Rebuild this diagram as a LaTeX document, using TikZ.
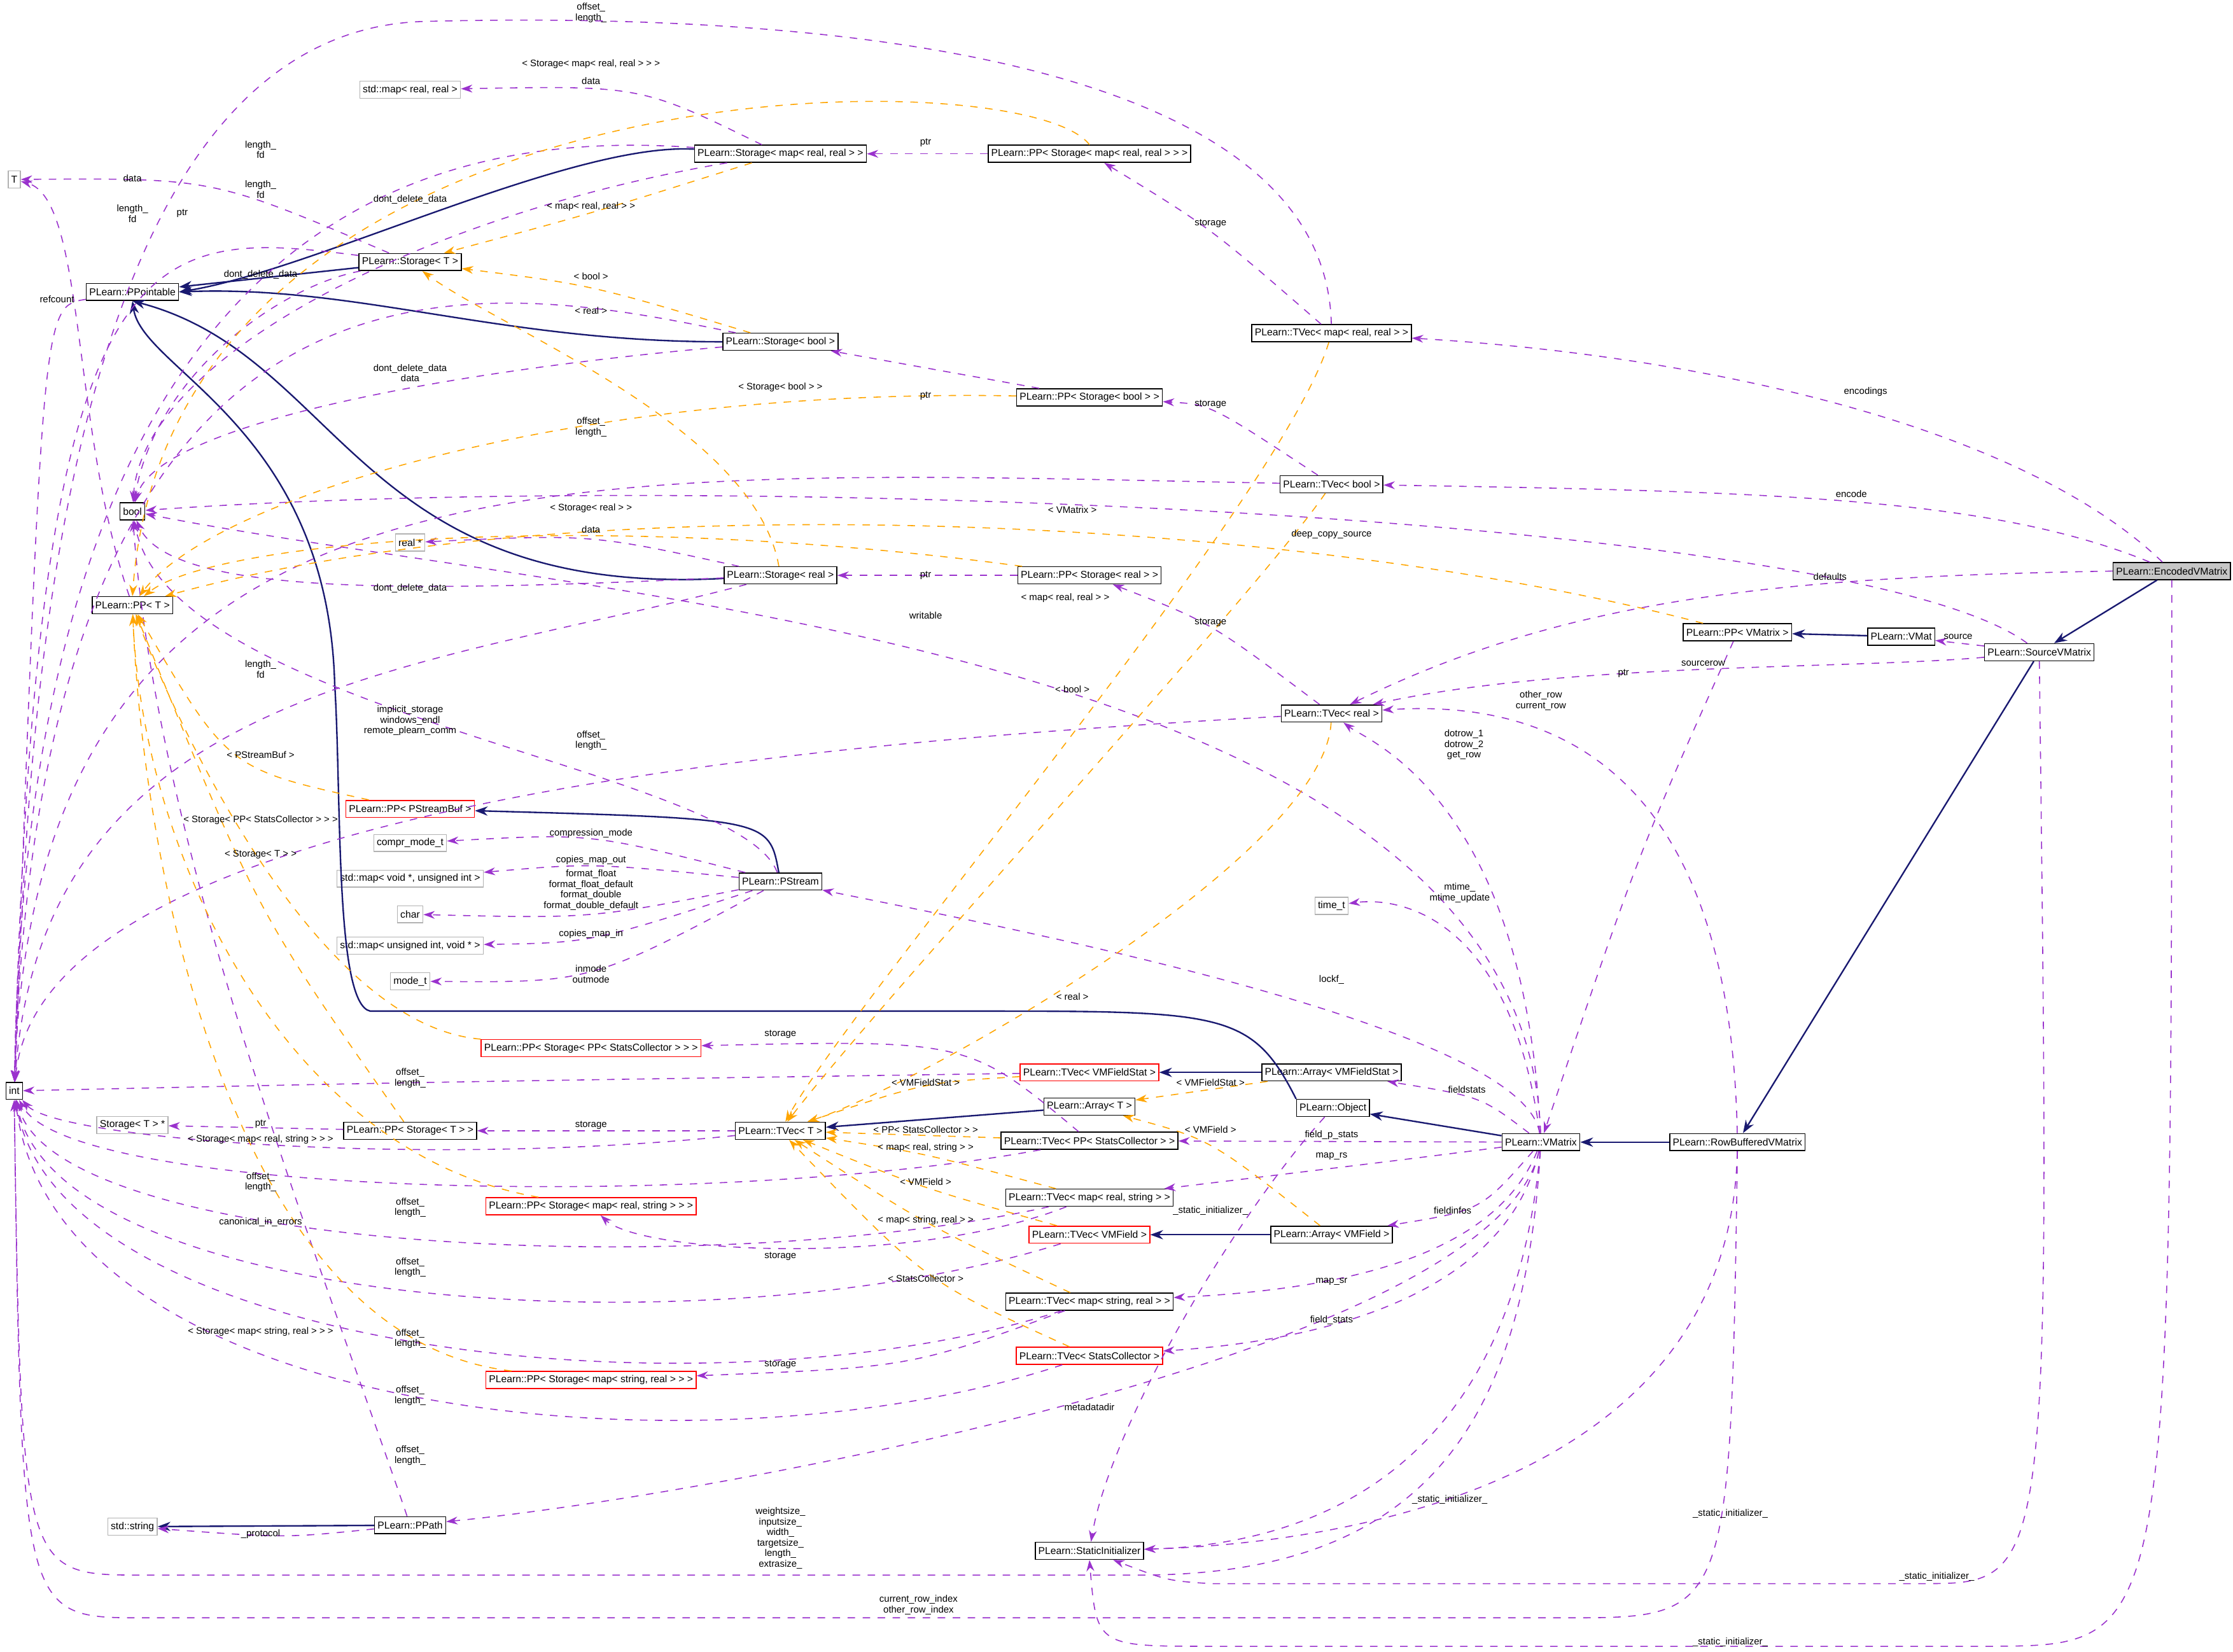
\documentclass[tikz,border=0pt]{standalone}
\usepackage{fontspec}
\setmainfont{Liberation Sans}
\usepackage{tikz}
\usetikzlibrary{arrows.meta}
\definecolor{usecol}{HTML}{9A32CD}
\definecolor{tplcol}{HTML}{FFA500}
\definecolor{inhcol}{HTML}{191970}
\begin{document}
\begin{tikzpicture}[x=0.02cm, y=-0.02cm]
        % Define styles
        \tikzstyle{cls} = [draw, rectangle, inner sep=1.2pt, minimum height=0.24cm, font=\fontsize{4}{4.5}\selectfont]
        \tikzstyle{ext} = [cls, draw=gray!60]
        \tikzstyle{bad} = [cls, draw=red]
        \tikzstyle{lbl} = [inner sep=0pt, align=center, font=\fontsize{3.8}{4.2}\selectfont]
        \tikzstyle{use} = [usecol, dashed, -{Stealth[length=1.6mm, width=1.1mm]}]
        \tikzstyle{tpl} = [tplcol, dashed, -{Stealth[length=1.6mm, width=1.1mm]}]
        \tikzstyle{inh} = [inhcol, semithick, -{Stealth[length=1.8mm, width=1.3mm]}]
        \useasboundingbox (0,0) rectangle (1568,1160);

        % Classes
        \node[cls, fill=gray!45] (encvm) at (1525,401) {PLearn::EncodedVMatrix};
        \node[cls] (srcvm) at (1432,458) {PLearn::SourceVMatrix};
        \node[cls] (vmat) at (1335,447) {PLearn::VMat};
        \node[cls] (ppvm) at (1220,444) {PLearn::PP< VMatrix >};
        \node[cls] (rbvm) at (1220,802) {PLearn::RowBufferedVMatrix};
        \node[cls] (vmatrix) at (1082,802) {PLearn::VMatrix};
        \node[cls] (object) at (936,778) {PLearn::Object};
        \node[cls] (arrfs) at (935,753) {PLearn::Array< VMFieldStat >};
        \node[cls] (arrfi) at (935,867) {PLearn::Array< VMField >};
        \node[cls] (tvmrr) at (935,234) {PLearn::TVec< map< real, real > >};
        \node[cls] (tvbool) at (935,340) {PLearn::TVec< bool >};
        \node[cls] (tvreal) at (935,501) {PLearn::TVec< real >};
        \node[ext] (timet) at (935,636) {time\_t};
        \node[cls] (ppsmrr) at (765,108) {PLearn::PP< Storage< map< real, real > > >};
        \node[cls] (ppsbool) at (765,279) {PLearn::PP< Storage< bool > >};
        \node[cls] (ppsreal) at (765,404) {PLearn::PP< Storage< real > >};
        \node[cls] (smrr) at (548,108) {PLearn::Storage< map< real, real > >};
        \node[cls] (stor) at (288,184) {PLearn::Storage< T >};
        \node[cls] (sbool) at (548,240) {PLearn::Storage< bool >};
        \node[cls] (sreal) at (548,404) {PLearn::Storage< real >};
        \node[cls] (ppointable) at (93,205) {PLearn::PPointable};
        \node[ext] (T) at (10,126) {T};
        \node[cls] (bool) at (93,359) {bool};
        \node[cls] (ppt) at (93,425) {PLearn::PP< T >};
        \node[cls] (int) at (10,766) {int};
        \node[ext] (mapll) at (288,63) {std::map< real, real >};
        \node[ext] (realp) at (288,381) {real *};
        \node[bad] (ppbuf) at (288,568) {PLearn::PP< PStreamBuf >};
        \node[ext] (compr) at (288,592) {compr\_mode\_t};
        \node[ext] (mapvoid) at (288,617) {std::map< void *, unsigned int >};
        \node[ext] (char) at (288,642) {char};
        \node[ext] (mapuns) at (288,664) {std::map< unsigned int, void * >};
        \node[ext] (modet) at (288,689) {mode\_t};
        \node[cls] (pstream) at (548,619) {PLearn::PStream};
        \node[bad] (ppspsc) at (415,736) {PLearn::PP< Storage< PP< StatsCollector > > >};
        \node[bad] (tvfs) at (765,753) {PLearn::TVec< VMFieldStat >};
        \node[cls] (arrt) at (765,777) {PLearn::Array< T >};
        \node[cls] (tvt) at (548,794) {PLearn::TVec< T >};
        \node[cls] (ppst) at (288,794) {PLearn::PP< Storage< T > >};
        \node[ext] (storp) at (93,790) {Storage< T > *};
        \node[cls] (tvppsc) at (765,801) {PLearn::TVec< PP< StatsCollector > >};
        \node[cls] (tvmrs) at (765,841) {PLearn::TVec< map< real, string > >};
        \node[bad] (ppsmrs) at (415,847) {PLearn::PP< Storage< map< real, string > > >};
        \node[bad] (tvfield) at (765,867) {PLearn::TVec< VMField >};
        \node[cls] (tvmsr) at (765,914) {PLearn::TVec< map< string, real > >};
        \node[bad] (tvsc) at (765,952) {PLearn::TVec< StatsCollector >};
        \node[bad] (ppsmsr) at (415,969) {PLearn::PP< Storage< map< string, real > > >};
        \node[ext] (string) at (93,1072) {std::string};
        \node[cls] (ppath) at (288,1071) {PLearn::PPath};
        \node[cls] (statinit) at (765,1089) {PLearn::StaticInitializer};

        % Inheritance
        \draw[inh] (encvm) -- (srcvm);
        \draw[inh] (srcvm) -- (rbvm);
        \draw[inh] (rbvm) -- (vmatrix);
        \draw[inh] (vmatrix) -- (object);
        \draw[inh] (vmat) -- (ppvm);
        \draw[inh] (object.north west) .. controls (880,712) and (860,710) .. (700,710) -- (260,710) .. controls (235,705) and (240,560) .. (235,480) .. controls (230,300) and (100,260) .. (ppointable.south);
        \draw[inh] (stor) -- (ppointable);
        \draw[inh] (smrr) .. controls (400,100) and (220,190) .. (ppointable.east);
        \draw[inh] (sbool) .. controls (350,240) and (250,200) .. (ppointable.east);
        \draw[inh] (sreal) .. controls (250,420) and (240,250) .. (ppointable.south);
        \draw[inh] (pstream) .. controls (540,575) .. (ppbuf);
        \draw[inh] (arrt) -- (tvt);
        \draw[inh] (arrfs) -- (tvfs);
        \draw[inh] (arrfi) -- (tvfield);
        \draw[inh] (ppath) -- (string);

        % Members
        \draw[use] (encvm) .. controls (1420,300) and (1200,250) .. (tvmrr);
        \draw[use] (encvm) .. controls (1400,350) and (1250,345) .. (tvbool);
        \draw[use] (encvm.west) .. controls (1250,405) and (1100,420) .. (tvreal);
        \draw[use] (encvm.south) .. controls (1525,1155) .. (1400,1156) -- (850,1156) .. controls (770,1156) .. (statinit.south);
        \draw[use] (srcvm) -- (vmat);
        \draw[use] (srcvm) .. controls (1300,360) and (500,330) .. (bool);
        \draw[use] (srcvm) .. controls (1300,470) and (1100,465) .. (tvreal);
        \draw[use] (srcvm.south) .. controls (1440,1112) .. (1350,1112) -- (850,1112) .. controls (820,1110) .. (statinit);
        \draw[use] (rbvm) .. controls (1215,550) and (1100,490) .. (tvreal);
        \draw[use] (rbvm.south) .. controls (1215,1136) .. (1100,1136) -- (100,1136) .. controls (15,1136) .. (int.south);
        \draw[use] (rbvm) .. controls (1215,1060) and (900,1085) .. (statinit);
        \draw[use] (vmatrix) .. controls (1070,560) and (960,520) .. (tvreal);
        \draw[use] (vmatrix) .. controls (1060,640) and (980,630) .. (timet);
        \draw[use] (vmatrix) .. controls (1070,720) and (700,650) .. (pstream);
        \draw[use] (vmatrix) .. controls (1040,770) .. (arrfs);
        \draw[use] (vmatrix) -- (tvppsc);
        \draw[use] (vmatrix) .. controls (980,815) .. (tvmrs);
        \draw[use] (vmatrix) .. controls (1040,850) .. (arrfi);
        \draw[use] (vmatrix) .. controls (1050,880) and (950,905) .. (tvmsr);
        \draw[use] (vmatrix) .. controls (1060,900) and (950,940) .. (tvsc);
        \draw[use] (vmatrix) .. controls (1050,950) and (500,1050) .. (ppath);
        \draw[use] (vmatrix) .. controls (1070,1000) and (1000,1106) .. (800,1106) -- (100,1106) .. controls (15,1106) .. (int.south);
        \draw[use] (vmatrix) .. controls (1060,1050) and (900,1085) .. (statinit);
        \draw[use] (vmatrix) .. controls (1070,450) and (400,420) .. (bool);
        \draw[use] (ppvm) .. controls (1150,600) .. (vmatrix);
        \draw[use] (object) .. controls (870,850) and (780,1000) .. (statinit);
        \draw[use] (ppsmrr) -- (smrr);
        \draw[use] (tvmrr) .. controls (850,160) .. (ppsmrr);
        \draw[use] (tvmrr) .. controls (930,20) and (500,10) .. (300,15) .. controls (20,20) and (18,600) .. (int);
        \draw[use] (smrr) .. controls (450,60) .. (mapll);
        \draw[use] (smrr) .. controls (300,90) and (20,150) .. (int);
        \draw[use] (smrr) .. controls (300,150) and (100,250) .. (bool);
        \draw[use] (stor) .. controls (150,125) .. (T);
        \draw[use] (stor) .. controls (100,160) and (25,160) .. (int);
        \draw[use] (stor) .. controls (200,200) and (110,260) .. (bool);
        \draw[use] (sbool) .. controls (300,262) and (110,300) .. (bool);
        \draw[use] (sbool) .. controls (350,200) and (30,130) .. (int);
        \draw[use] (ppsbool) -- (sbool);
        \draw[use] (tvbool) .. controls (850,284) .. (ppsbool);
        \draw[use] (tvbool) .. controls (400,330) and (25,300) .. (int);
        \draw[use] (sreal) .. controls (415,375) .. (realp);
        \draw[use] (sreal) .. controls (300,415) and (120,420) .. (bool);
        \draw[use] (sreal) .. controls (300,470) and (30,480) .. (int);
        \draw[use] (ppsreal) -- (sreal);
        \draw[use] (tvreal) .. controls (850,437) .. (ppsreal);
        \draw[use] (tvreal) .. controls (600,520) and (30,560) .. (int);
        \draw[use] (ppointable) .. controls (30,215) .. (int);
        \draw[use] (ppt) .. controls (50,300) and (60,140) .. (T);
        \draw[use] (pstream) .. controls (415,585) .. (compr);
        \draw[use] (pstream) .. controls (415,606) .. (mapvoid);
        \draw[use] (pstream) .. controls (415,645) .. (char);
        \draw[use] (pstream) .. controls (415,662) .. (mapuns);
        \draw[use] (pstream) .. controls (415,690) .. (modet);
        \draw[use] (pstream) .. controls (520,540) and (120,500) .. (bool);
        \draw[use] (tvfs) .. controls (288,760) .. (int);
        \draw[use] (tvt) -- (ppst);
        \draw[use] (tvt) .. controls (300,820) and (40,800) .. (int);
        \draw[use] (ppst) -- (storp);
        \draw[use] (tvppsc) .. controls (680,730) .. (ppspsc);
        \draw[use] (tvppsc) .. controls (500,850) and (50,840) .. (int);
        \draw[use] (tvmrs) .. controls (640,890) and (450,880) .. (ppsmrs);
        \draw[use] (tvmrs) .. controls (500,900) and (40,880) .. (int);
        \draw[use] (ppath) .. controls (230,900) and (110,600) .. (bool);
        \draw[use] (tvfield) .. controls (500,950) and (40,920) .. (int);
        \draw[use] (tvmsr) .. controls (640,960) .. (ppsmsr);
        \draw[use] (tvmsr) .. controls (500,1000) and (40,950) .. (int);
        \draw[use] (tvsc) .. controls (500,1040) and (40,1000) .. (int);
        \draw[use] (ppath) .. controls (200,1080) .. (string);

        % Templates
        \draw[tpl] (ppsmrr.north) .. controls (720,40) and (120,40) .. (ppt.north);
        \draw[tpl] (smrr) .. controls (415,150) .. (stor);
        \draw[tpl] (sbool) .. controls (415,200) .. (stor);
        \draw[tpl] (sreal) .. controls (530,300) and (350,230) .. (stor);
        \draw[tpl] (ppsbool) .. controls (400,272) and (150,350) .. (ppt);
        \draw[tpl] (ppsreal) .. controls (415,357) and (150,380) .. (ppt);
        \draw[tpl] (ppvm) .. controls (900,360) and (400,340) .. (ppt);
        \draw[tpl] (tvmrr) .. controls (900,350) and (600,700) .. (tvt);
        \draw[tpl] (tvbool) .. controls (880,420) and (620,700) .. (tvt);
        \draw[tpl] (tvreal) .. controls (930,600) and (650,760) .. (tvt);
        \draw[tpl] (ppbuf) .. controls (160,540) .. (ppt);
        \draw[tpl] (ppspsc) .. controls (220,720) and (120,500) .. (ppt);
        \draw[tpl] (ppst) .. controls (180,640) .. (ppt);
        \draw[tpl] (ppsmrs) .. controls (200,810) and (100,600) .. (ppt);
        \draw[tpl] (ppsmsr) .. controls (160,940) and (100,600) .. (ppt);
        \draw[tpl] (tvfs) .. controls (650,760) .. (tvt);
        \draw[tpl] (tvppsc) -- (tvt);
        \draw[tpl] (tvmrs) .. controls (650,810) .. (tvt);
        \draw[tpl] (tvfield) .. controls (650,835) .. (tvt);
        \draw[tpl] (tvmsr) .. controls (650,860) .. (tvt);
        \draw[tpl] (tvsc) .. controls (650,900) .. (tvt);
        \draw[tpl] (arrfs) .. controls (850,765) .. (arrt);
        \draw[tpl] (arrfi) .. controls (850,800) .. (arrt);

        % Labels
        \node[lbl] at (1310,275) {encodings};
        \node[lbl] at (1300,347) {encode};
        \node[lbl] at (1285,405) {defaults};
        \node[lbl] at (1215,1153) {\_static\_initializer\_};
        \node[lbl] at (1375,447) {source};
        \node[lbl] at (935,375) {deep\_copy\_source};
        \node[lbl] at (1196,466) {sourcerow};
        \node[lbl] at (1360,1107) {\_static\_initializer\_};
        \node[lbl] at (1082,492) {other\_row\\current\_row};
        \node[lbl] at (645,1127) {current\_row\_index\\other\_row\_index};
        \node[lbl] at (1215,1063) {\_static\_initializer\_};
        \node[lbl] at (1028,523) {dotrow\_1\\dotrow\_2\\get\_row};
        \node[lbl] at (1025,627) {mtime\_\\mtime\_update};
        \node[lbl] at (935,688) {lockf\_};
        \node[lbl] at (1030,765) {fieldstats};
        \node[lbl] at (935,797) {field\_p\_stats};
        \node[lbl] at (935,812) {map\_rs};
        \node[lbl] at (1020,850) {fieldinfos};
        \node[lbl] at (935,900) {map\_sr};
        \node[lbl] at (935,927) {field\_stats};
        \node[lbl] at (765,988) {metadatadir};
        \node[lbl] at (548,1080) {weightsize\_\\inputsize\_\\width\_\\targetsize\_\\length\_\\extrasize\_};
        \node[lbl] at (1018,1053) {\_static\_initializer\_};
        \node[lbl] at (650,432) {writable};
        \node[lbl] at (1140,473) {ptr};
        \node[lbl] at (850,850) {\_static\_initializer\_};
        \node[lbl] at (650,100) {ptr};
        \node[lbl] at (850,157) {storage};
        \node[lbl] at (415,9) {offset\_\\length\_};
        \node[lbl] at (415,57) {data};
        \node[lbl] at (183,105) {length\_\\fd};
        \node[lbl] at (288,140) {dont\_delete\_data};
        \node[lbl] at (93,125) {data};
        \node[lbl] at (93,150) {length\_\\fd};
        \node[lbl] at (128,150) {ptr};
        \node[lbl] at (183,193) {dont\_delete\_data};
        \node[lbl] at (288,262) {dont\_delete\_data\\data};
        \node[lbl] at (183,133) {length\_\\fd};
        \node[lbl] at (650,278) {ptr};
        \node[lbl] at (850,284) {storage};
        \node[lbl] at (415,300) {offset\_\\length\_};
        \node[lbl] at (415,372) {data};
        \node[lbl] at (288,413) {dont\_delete\_data};
        \node[lbl] at (183,470) {length\_\\fd};
        \node[lbl] at (650,404) {ptr};
        \node[lbl] at (850,437) {storage};
        \node[lbl] at (415,520) {offset\_\\length\_};
        \node[lbl] at (40,210) {refcount};
        \node[lbl] at (415,585) {compression\_mode};
        \node[lbl] at (415,604) {copies\_map\_out};
        \node[lbl] at (415,625) {format\_float\\format\_float\_default\\format\_double\\format\_double\_default};
        \node[lbl] at (415,656) {copies\_map\_in};
        \node[lbl] at (415,684) {inmode\\outmode};
        \node[lbl] at (288,506) {implicit\_storage\\windows\_endl\\remote\_plearn\_comm};
        \node[lbl] at (288,757) {offset\_\\length\_};
        \node[lbl] at (415,790) {storage};
        \node[lbl] at (183,789) {ptr};
        \node[lbl] at (183,830) {offset\_\\length\_};
        \node[lbl] at (548,726) {storage};
        \node[lbl] at (288,848) {offset\_\\length\_};
        \node[lbl] at (548,882) {storage};
        \node[lbl] at (183,858) {canonical\_in\_errors};
        \node[lbl] at (288,890) {offset\_\\length\_};
        \node[lbl] at (548,958) {storage};
        \node[lbl] at (288,940) {offset\_\\length\_};
        \node[lbl] at (288,980) {offset\_\\length\_};
        \node[lbl] at (288,1022) {offset\_\\length\_};
        \node[lbl] at (183,1077) {\_protocol};
        \node[lbl] at (415,45) {< Storage< map< real, real > > >};
        \node[lbl] at (415,145) {< map< real, real > >};
        \node[lbl] at (415,194) {< bool >};
        \node[lbl] at (415,218) {< real >};
        \node[lbl] at (548,272) {< Storage< bool > >};
        \node[lbl] at (415,357) {< Storage< real > >};
        \node[lbl] at (753,358) {< VMatrix >};
        \node[lbl] at (748,420) {< map< real, real > >};
        \node[lbl] at (753,484) {< bool >};
        \node[lbl] at (753,700) {< real >};
        \node[lbl] at (183,530) {< PStreamBuf >};
        \node[lbl] at (183,576) {< Storage< PP< StatsCollector > > >};
        \node[lbl] at (183,600) {< Storage< T > >};
        \node[lbl] at (183,800) {< Storage< map< real, string > > >};
        \node[lbl] at (183,935) {< Storage< map< string, real > > >};
        \node[lbl] at (650,760) {< VMFieldStat >};
        \node[lbl] at (650,793) {< PP< StatsCollector > >};
        \node[lbl] at (650,806) {< map< real, string > >};
        \node[lbl] at (650,830) {< VMField >};
        \node[lbl] at (650,857) {< map< string, real > >};
        \node[lbl] at (650,898) {< StatsCollector >};
        \node[lbl] at (850,760) {< VMFieldStat >};
        \node[lbl] at (850,793) {< VMField >};
    \end{tikzpicture}
\end{document}
